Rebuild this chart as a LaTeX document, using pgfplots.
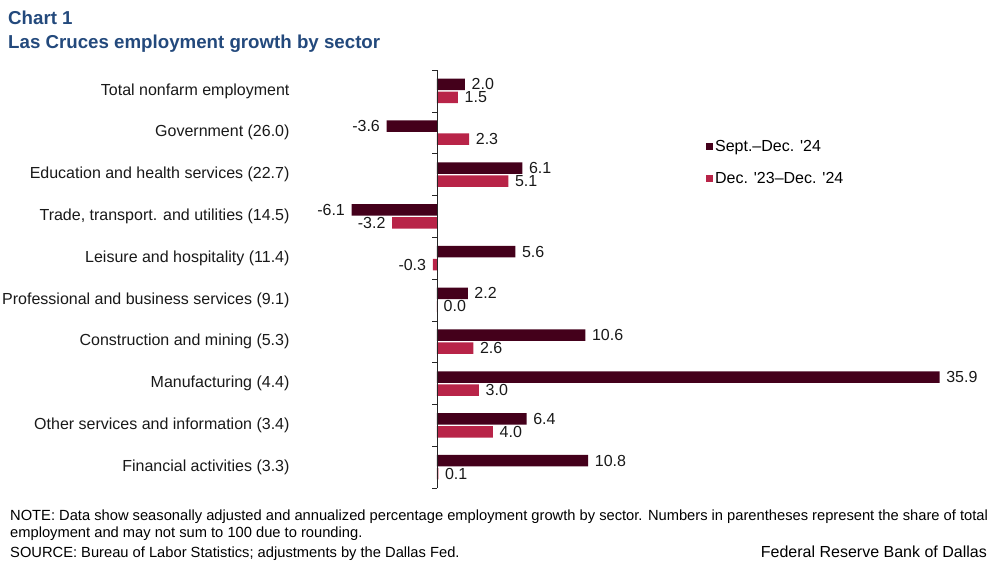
\documentclass[border=0pt]{standalone}
\usepackage{pgfplots}
\pgfplotsset{compat=1.18}
\usepackage{fontspec}
\setmainfont{Liberation Sans}
\definecolor{fedblue}{RGB}{35,73,124}
\definecolor{darkbar}{RGB}{68,0,27}
\definecolor{redbar}{RGB}{184,36,72}

\begin{document}
\begin{tikzpicture}
\path[use as bounding box] (0pt,0pt) rectangle (997pt,-565pt);
% titles
\node[anchor=base west, inner sep=0, font=\fontsize{18.7}{21}\selectfont\bfseries, text=fedblue] at (8pt,-24pt) {Chart 1};
\node[anchor=base west, inner sep=0, font=\fontsize{18.7}{21}\selectfont\bfseries, text=fedblue] at (8pt,-48pt) {Las Cruces employment growth by sector};

\begin{axis}[
  at={(296pt,-70pt)}, anchor=north west,
  scale only axis, width=659pt, height=418pt,
  xmin=-10.07, xmax=37, ymin=-0.5, ymax=9.5,
  y dir=reverse,
  xbar, bar width=11.5pt,
  hide x axis,
  axis y line*=left, y axis line style={draw=none},
  major tick length=0pt,
  ytick={0,...,9},
  yticklabels={Total nonfarm employment, Government (26.0), Education and health services (22.7),
    {Trade, transport. and utilities (14.5)}, Leisure and hospitality (11.4),
    Professional and business services (9.1), Construction and mining (5.3),
    Manufacturing (4.4), Other services and information (3.4), Financial activities (3.3)},
  yticklabel style={font=\fontsize{16}{18}\selectfont, anchor=east, text=black!90, xshift=-3pt},
  point meta=x,
  nodes near coords={\pgfmathprintnumber[fixed,fixed zerofill,precision=1,assume math mode=true]{\pgfplotspointmeta}},
  nodes near coords style={font=\fontsize{16}{18}\selectfont, black!90, inner xsep=6.5pt, inner ysep=0pt},
  clip=false,
  legend style={at={(0.622,0.838)}, anchor=north west, draw=none, fill=none,
    font=\fontsize{16}{18}\selectfont, row sep=16pt, inner sep=0pt},
  legend cell align=left,
]
\addplot[fill=darkbar, draw=none, bar shift=6.5pt,
  legend image code/.code={\fill[darkbar] (0pt,-3.5pt) rectangle (7pt,3.5pt);}]
  coordinates {(2.0,0) (-3.6,1) (6.1,2) (-6.1,3) (5.6,4) (2.2,5) (10.6,6) (35.9,7) (6.4,8) (10.8,9)};
\addlegendentry{Sept.--Dec. \textquotesingle 24}
\addplot[fill=redbar, draw=none, bar shift=-6.5pt,
  legend image code/.code={\fill[redbar] (0pt,-3.5pt) rectangle (7pt,3.5pt);}]
  coordinates {(1.5,0) (2.3,1) (5.1,2) (-3.2,3) (-0.3,4) (0.0,5) (2.6,6) (3.0,7) (4.0,8) (0.1,9)};
\addlegendentry{Dec. \textquotesingle 23--Dec. \textquotesingle 24}
\draw[black!85] (axis cs:0,-0.5) -- (axis cs:0,9.5);
\pgfplotsinvokeforeach{-0.5,0.5,...,9.5}{\draw[black!85] (axis cs:0,#1) -- ++(-5pt,0pt);}
\end{axis}

% footer
\node[anchor=base west, inner sep=0, font=\fontsize{14.7}{17}\selectfont] at (10pt,-520pt) {NOTE: Data show seasonally adjusted and annualized percentage employment growth by sector. Numbers in parentheses represent the share of total};
\node[anchor=base west, inner sep=0, font=\fontsize{14.7}{17}\selectfont] at (10pt,-537pt) {employment and may not sum to 100 due to rounding.};
\node[anchor=base west, inner sep=0, font=\fontsize{14.7}{17}\selectfont] at (10pt,-557pt) {SOURCE: Bureau of Labor Statistics; adjustments by the Dallas Fed.};
\node[anchor=base east, inner sep=0, font=\fontsize{16}{18}\selectfont] at (987pt,-557pt) {Federal Reserve Bank of Dallas};
\end{tikzpicture}
\end{document}
